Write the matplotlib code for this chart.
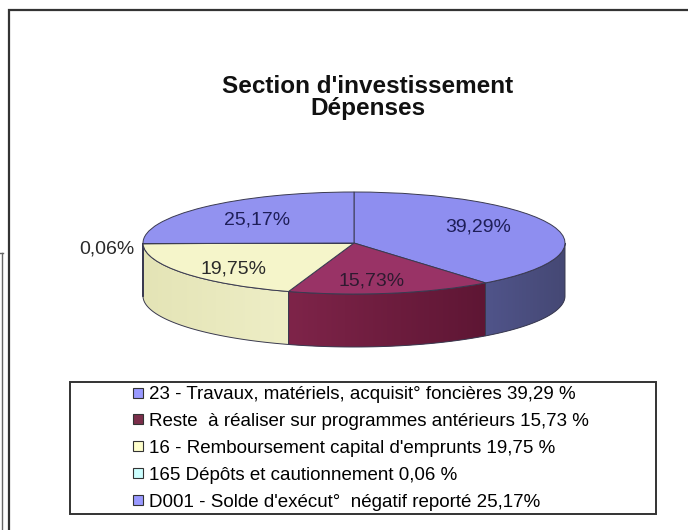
import numpy as np
import matplotlib.pyplot as plt
import matplotlib.colors as mcolors
from matplotlib.patches import Wedge, Polygon, Rectangle
from matplotlib.transforms import Affine2D
from matplotlib.lines import Line2D

plt.rcParams['font.family'] = ['Liberation Sans', 'DejaVu Sans']

# data
categories = ["23 - Travaux, matériels, acquisit° foncières 39,29 %",
              "Reste  à réaliser sur programmes antérieurs 15,73 %",
              "16 - Remboursement capital d'emprunts 19,75 %",
              "165 Dépôts et cautionnement 0,06 %",
              "D001 - Solde d'exécut°  négatif reporté 25,17%"]
shares = [39.29, 15.73, 19.75, 0.06, 25.17]
pct_labels = ['39,29%', '15,73%', '19,75%', '0,06%', '25,17%']
title_lines = ["Section d'investissement", "Dépenses"]

# colours
top_colors = ['#8E8EF0', '#993366', '#F5F5CA', '#CCFFFF', '#9292F0']
side_left = ['#50548A', '#7E2449', '#E4E4B6', '#AADADA', '#50548A']
side_right = ['#454874', '#5E1634', '#EEEEC6', '#B5E5E5', '#454874']
legend_colors = ['#9999FF', '#7A2E4A', '#FFFFCC', '#CCFFFF', '#9999FF']
label_colors = ['#1E1E58', '#2E1A30', '#2A2A2A', '#2A2A2A', '#1E1E58']

# layout, in pixels
W, H = 688, 530
cx, cy, rx, ry, depth = 354, 243, 211, 51, 53
label_xy = [(478, 227), (372, 281), (234, 269), (134, 249), (257, 220)]
label_ha = ['center', 'center', 'center', 'right', 'center']
edge = '#3A3A50'

fig = plt.figure(figsize=(W / 100, H / 100), dpi=100)
ax = fig.add_axes([0, 0, 1, 1])

frac = np.array(shares) / sum(shares)
bounds = -90 + 360 * np.concatenate([[0], np.cumsum(frac)])

# side walls (front half only)
for i in range(len(shares)):
    t0, t1 = max(bounds[i], 0), min(bounds[i + 1], 180)
    if t1 <= t0:
        continue
    t = np.radians(np.linspace(t0, t1, 100))
    x = cx + rx * np.cos(t)
    y = cy + ry * np.sin(t)
    verts = np.column_stack([np.r_[x, x[::-1]], np.r_[y, y[::-1] + depth]])
    poly = Polygon(verts, closed=True, fc=side_left[i], ec='none', zorder=2)
    ax.add_patch(poly)
    c0 = np.array(mcolors.to_rgb(side_left[i]))
    c1 = np.array(mcolors.to_rgb(side_right[i]))
    u = np.linspace(0, 1, 200)[None, :, None]
    img = np.repeat(c0 + (c1 - c0) * u, 2, axis=0)
    im = ax.imshow(img, extent=(x.min(), x.max(), y.max() + depth, y.min()),
                   aspect='auto', zorder=2.1, interpolation='bilinear')
    im.set_clip_path(poly)
    ax.add_patch(Polygon(verts, closed=True, fc='none', ec=edge, lw=0.7, zorder=2.2))

# top face
ell = Affine2D().scale(rx, ry).translate(cx, cy) + ax.transData
for i in range(len(shares)):
    ax.add_patch(Wedge((0, 0), 1, bounds[i], bounds[i + 1], transform=ell,
                       fc=top_colors[i], ec=edge, lw=0.7, zorder=3))

for i, lab in enumerate(pct_labels):
    ax.text(label_xy[i][0], label_xy[i][1], lab, ha=label_ha[i], va='center',
            fontsize=14, color=label_colors[i], zorder=4)

# title
ax.text(368, 93, title_lines[0], ha='center', va='baseline',
        fontsize=17.5, fontweight='bold', color='#111111')
ax.text(368, 115, title_lines[1], ha='center', va='baseline',
        fontsize=17.5, fontweight='bold', color='#111111')

# legend
handles = [Line2D([], [], ls='none', marker='s', ms=6.5, mfc=c, mec='#333333', mew=0.8)
           for c in legend_colors]
ax.legend(handles, categories, loc='upper left', bbox_to_anchor=(132, 386),
          bbox_transform=ax.transData, frameon=False, fontsize=13.5,
          handlelength=0.6, handletextpad=0.3, labelspacing=0.52,
          borderpad=0, borderaxespad=0)
ax.add_patch(Rectangle((70, 382), 586, 132, fill=False, ec='#333333', lw=1.4, zorder=5))

# chart frame (cut off at right and bottom)
ax.plot([9, 9, W], [H, 10, 10], color='#333333', lw=1.6, solid_joinstyle='miter')
ax.plot([1.5, 1.5], [253, H], color='#666666', lw=1.0)
ax.plot([0, 3], [253, 253], color='#666666', lw=1.0)

ax.set_xlim(0, W)
ax.set_ylim(H, 0)
ax.axis('off')

fig.savefig('out.png', dpi=100)
